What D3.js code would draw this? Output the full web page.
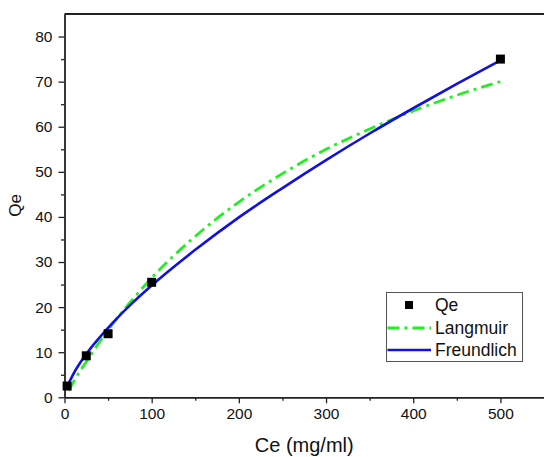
<!DOCTYPE html>
<html>
<head>
<meta charset="utf-8">
<script src="https://cdn.jsdelivr.net/npm/d3@7"></script>
<style>
  body { margin: 0; background: #fff; }
  svg { display: block; font-family: "Liberation Sans", Arial, sans-serif; }
</style>
</head>
<body>
<div class="chart"></div>
<script>
// measured points
var ceData = [3, 25, 50, 100, 500];
var qeData = [2.5, 9.2, 14.1, 25.5, 75.0];

// fitted curves
var langCe = [5, 10, 25, 50, 75, 100, 150, 200, 250, 300, 350, 400, 450, 500];
var langQe = [1.5, 3.3, 7.9, 14.9, 21.0, 26.5, 35.7, 43.3, 49.6, 55.0, 59.5, 63.5, 67.0, 70.0];
var freuCe = [5, 10, 25, 50, 75, 100, 150, 200, 250, 300, 350, 400, 450, 500];
var freuQe = [3.2, 5.1, 9.6, 15.4, 20.4, 24.8, 32.7, 39.9, 46.4, 52.6, 58.5, 64.1, 69.5, 74.7];

var xTicks = [0, 100, 200, 300, 400, 500];
var yTicks = [0, 10, 20, 30, 40, 50, 60, 70, 80];

var W = 544, H = 457;
var margin = {left: 64.5, top: 14, right: 0, bottom: 60};

var svg = d3.select(".chart").append("svg")
    .attr("width", W)
    .attr("height", H);

var x = d3.scaleLinear().domain([0, 550]).range([margin.left, W - margin.right]);
var y = d3.scaleLinear().domain([0, 85]).range([397.3, margin.top]);

// minor ticks
svg.append("g")
    .attr("transform", "translate(0," + y(0) + ")")
    .call(d3.axisBottom(x).tickValues(d3.range(50, 550, 100)).tickSize(3.5).tickFormat(""))
    .call(function(g) { g.select(".domain").remove(); })
    .selectAll("line").attr("stroke", "#222").attr("stroke-width", 1.3);
svg.append("g")
    .attr("transform", "translate(" + x(0) + ",0)")
    .call(d3.axisLeft(y).tickValues(d3.range(5, 85, 10)).tickSize(3.5).tickFormat(""))
    .call(function(g) { g.select(".domain").remove(); })
    .selectAll("line").attr("stroke", "#222").attr("stroke-width", 1.3);

// major axes
var xAxis = svg.append("g")
    .attr("transform", "translate(0," + y(0) + ")")
    .call(d3.axisBottom(x).tickValues(xTicks).tickSize(6).tickSizeOuter(0).tickPadding(5));
var yAxis = svg.append("g")
    .attr("transform", "translate(" + x(0) + ",0)")
    .call(d3.axisLeft(y).tickValues(yTicks).tickSize(6).tickSizeOuter(0).tickPadding(6));

[xAxis, yAxis].forEach(function(g) {
    g.select(".domain").attr("stroke", "#222").attr("stroke-width", 1.8);
    g.selectAll(".tick line").attr("stroke", "#222").attr("stroke-width", 1.3);
    g.selectAll(".tick text")
        .attr("fill", "#111")
        .style("font-size", "15.5px")
        .style("font-family", "'Liberation Sans', Arial, sans-serif");
});

// top border
svg.append("line")
    .attr("x1", x(0)).attr("x2", W)
    .attr("y1", y(85)).attr("y2", y(85))
    .attr("stroke", "#222").attr("stroke-width", 1.8);

// axis titles
svg.append("text")
    .attr("x", (x(0) + W) / 2)
    .attr("y", 452)
    .attr("text-anchor", "middle")
    .style("font-size", "20px")
    .attr("fill", "#111")
    .text("Ce (mg/ml)");
svg.append("text")
    .attr("transform", "translate(21," + 205.5 + ") rotate(-90)")
    .attr("text-anchor", "middle")
    .style("font-size", "17px")
    .attr("fill", "#111")
    .text("Qe");

// curves
var line = d3.line()
    .x(function(d) { return x(d[0]); })
    .y(function(d) { return y(d[1]); })
    .curve(d3.curveMonotoneX);

svg.append("path")
    .datum(d3.zip(langCe, langQe))
    .attr("d", line)
    .attr("fill", "none")
    .attr("stroke", "#22ee22")
    .attr("stroke-width", 2.8)
    .attr("stroke-dasharray", "12,5,3,5");

svg.append("path")
    .datum(d3.zip(freuCe, freuQe))
    .attr("d", line)
    .attr("fill", "none")
    .attr("stroke", "#1010e0")
    .attr("stroke-width", 2.6);

// points
var sq = 9;
svg.append("g").selectAll("rect")
    .data(d3.zip(ceData, qeData))
    .enter().append("rect")
    .attr("x", function(d) { return x(d[0]) - sq / 2; })
    .attr("y", function(d) { return y(d[1]) - sq / 2; })
    .attr("width", sq)
    .attr("height", sq)
    .attr("fill", "#000");

// legend
var lg = svg.append("g").attr("transform", "translate(386.5,292.5)");
lg.append("rect")
    .attr("width", 136).attr("height", 69)
    .attr("fill", "#fff")
    .attr("stroke", "#555").attr("stroke-width", 1);
var rows = [
    {name: "Qe", y: 12.5},
    {name: "Langmuir", y: 35.5},
    {name: "Freundlich", y: 57.5}
];
lg.append("rect")
    .attr("x", 22.5 - 4).attr("y", rows[0].y - 4)
    .attr("width", 8).attr("height", 8)
    .attr("fill", "#000");
lg.append("line")
    .attr("x1", 1).attr("x2", 44.5)
    .attr("y1", rows[1].y).attr("y2", rows[1].y)
    .attr("stroke", "#22ee22").attr("stroke-width", 2.8)
    .attr("stroke-dasharray", "12,5,3,5");
lg.append("line")
    .attr("x1", 1).attr("x2", 44.5)
    .attr("y1", rows[2].y).attr("y2", rows[2].y)
    .attr("stroke", "#1010e0").attr("stroke-width", 2.6);
lg.selectAll("text.lbl")
    .data(rows)
    .enter().append("text")
    .attr("class", "lbl")
    .attr("x", 48.5)
    .attr("y", function(d) { return d.y; })
    .attr("dy", "0.35em")
    .style("font-size", "17.5px")
    .attr("fill", "#111")
    .text(function(d) { return d.name; });
</script>
</body>
</html>
